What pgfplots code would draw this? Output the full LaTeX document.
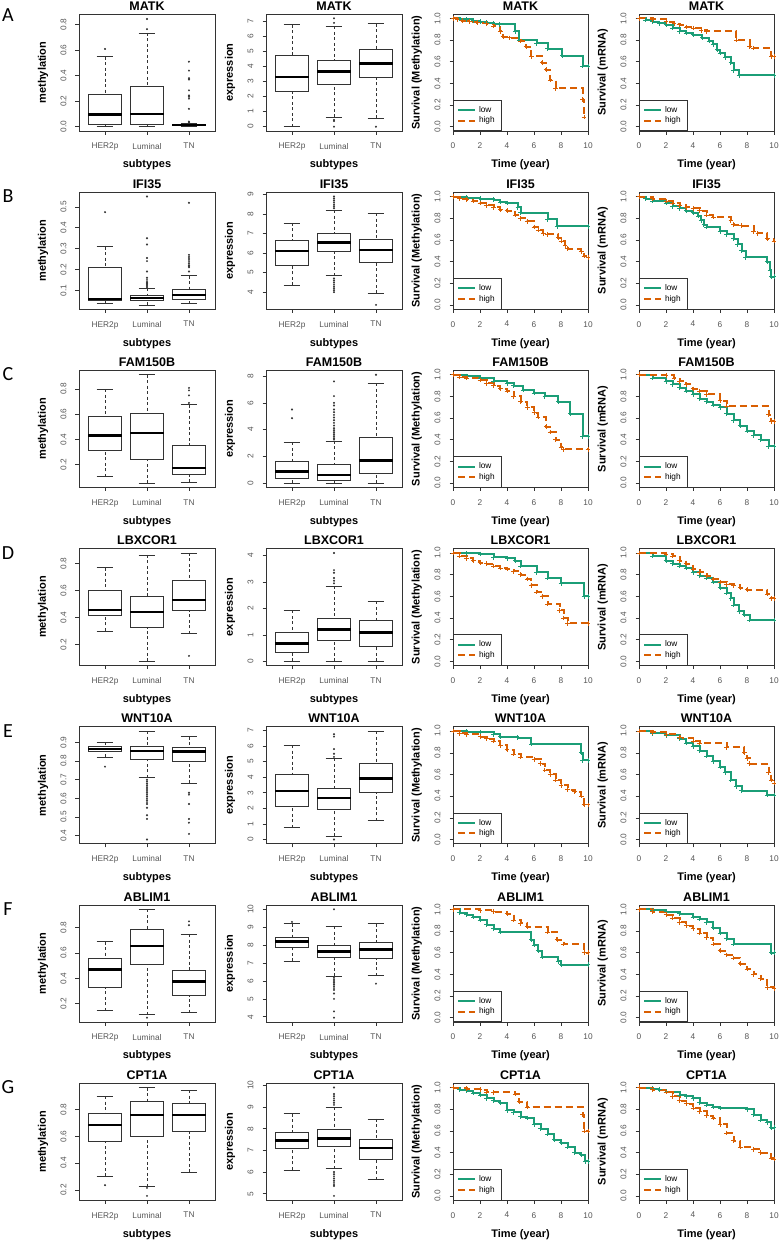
\documentclass[border=0pt]{standalone}
\usepackage{pgfplots}
\pgfplotsset{compat=1.18}
\usepgfplotslibrary{statistics}
\usepackage{fontspec}
\setmainfont{Liberation Sans}
\newfontfamily\letterfont{Carlito}
\definecolor{kmlow}{HTML}{1B9E77}
\definecolor{kmhigh}{HTML}{D95F02}
\definecolor{frame}{HTML}{333333}
\definecolor{ticklab}{HTML}{555555}

\pgfplotsset{
  rbase/.style={
    scale only axis, height=117pt, anchor=north west,
    axis line style={draw=frame, line width=0.7pt},
    tick align=outside, tick pos=left,
    major tick length=3.5pt,
    every tick/.style={draw=frame, line width=0.6pt},
    ticklabel style={font=\fontsize{8.3}{9}\selectfont, text=ticklab, /pgf/number format/assume math mode=true},
    yticklabel style={rotate=90, anchor=south},
    xticklabel shift=5pt, yticklabel shift=5.5pt,
    every axis title/.style={at={(axis description cs:0.5,1.034)}, anchor=base, font=\bfseries\fontsize{12.5}{14}\selectfont},
    every axis x label/.style={at={(axis description cs:0.5,-0.291)}, anchor=center, font=\bfseries\fontsize{11}{13}\selectfont},
    every axis y label/.style={rotate=90, anchor=center, font=\bfseries\fontsize{11}{13}\selectfont},
  },
  meth/.style={yticklabel style={/pgf/number format/.cd, fixed, fixed zerofill, precision=1}},
  bpax/.style={rbase, width=136pt, xmin=0.38, xmax=3.62, xtick={1,2,3},
    xticklabels={HER2p,Luminal,TN}, xlabel={subtypes},
    ylabel style={at={(axis description cs:-0.265,0.5)}}},
  kmax/.style={rbase, width=135pt, xmin=0, xmax=10, ymin=-0.04, ymax=1.04,
    xtick={0,2,4,6,8,10}, ytick={0,0.2,0.4,0.6,0.8,1}, meth,
    xlabel={Time (year)},
    ylabel style={at={(axis description cs:-0.269,0.5)}},
    legend style={at={(axis description cs:0,0)}, anchor=south west, draw=frame,
      line width=0.6pt, fill=white, inner xsep=3.7pt, inner ysep=3.3pt, row sep=-3pt,
      font=\fontsize{8.3}{9}\selectfont, nodes={inner sep=3pt}},
    legend cell align=left,
    legend image code/.code={\draw[##1] (0pt,0pt) -- (17pt,0pt);},
  },
  lowc/.style={kmlow, line width=2pt, const plot, mark=+, mark size=2.3pt, mark options={line width=0.7pt}},
  highc/.style={kmhigh, line width=2pt, const plot, dash pattern=on 7pt off 4pt, mark=+, mark size=2.3pt, mark options={solid, line width=0.7pt}},
  rbp/.style={
    draw=frame, line width=0.7pt, solid,
    mark=*, mark size=0.85pt, mark options={fill=frame, draw=frame, line width=0.3pt},
    boxplot/draw direction=y,
    boxplot/box extend=0.8,
    boxplot/whisker extend=0.4,
    boxplot/every box/.style={draw=frame, fill=white, line width=0.7pt},
    boxplot/every median/.style={draw=black, line width=2.5pt},
    boxplot/every whisker/.style={draw=frame, line width=0.7pt},
    boxplot/draw/lower whisker/.code={%
      \draw[/pgfplots/boxplot/every whisker/.try, dash pattern=on 3pt off 2.5pt]
        (boxplot box cs:\pgfplotsboxplotvalue{lower whisker},0.5) --
        (boxplot box cs:\pgfplotsboxplotvalue{lower quartile},0.5);
      \draw[/pgfplots/boxplot/every whisker/.try]
        (boxplot whisker cs:\pgfplotsboxplotvalue{lower whisker},0) --
        (boxplot whisker cs:\pgfplotsboxplotvalue{lower whisker},1);
    },
    boxplot/draw/upper whisker/.code={%
      \draw[/pgfplots/boxplot/every whisker/.try, dash pattern=on 3pt off 2.5pt]
        (boxplot box cs:\pgfplotsboxplotvalue{upper whisker},0.5) --
        (boxplot box cs:\pgfplotsboxplotvalue{upper quartile},0.5);
      \draw[/pgfplots/boxplot/every whisker/.try]
        (boxplot whisker cs:\pgfplotsboxplotvalue{upper whisker},0) --
        (boxplot whisker cs:\pgfplotsboxplotvalue{upper whisker},1);
    },
  },
}

% position, lower whisker, Q1, median, Q3, upper whisker, outliers
\newcommand{\bp}[7]{\addplot[rbp, boxplot prepared={draw position=#1, lower whisker=#2, lower quartile=#3, median=#4, upper quartile=#5, upper whisker=#6}] coordinates {#7};}
% x, y(top), title, ylabel, axis options, plots
\newcommand{\bpanel}[6]{\begin{axis}[bpax, at={(#1pt,-#2pt)}, title={#3}, ylabel={#4}, #5] #6 \end{axis}}
% x, y(top), title, ylabel, low, high
\newcommand{\km}[6]{\begin{axis}[kmax, at={(#1pt,-#2pt)}, title={#3}, ylabel={#4}]
\addplot[lowc] coordinates {#5}; \addlegendentry{low}
\addplot[highc] coordinates {#6}; \addlegendentry{high}
\end{axis}}
\newcommand{\rowlet}[2]{\node[font=\letterfont\fontsize{20}{20}\selectfont, anchor=center] at (8pt,-#2pt) {#1};}

\begin{document}
\begin{tikzpicture}
\path[use as bounding box] (0pt,0pt) rectangle (780pt,-1240pt);

% ---------------- Row A : MATK
\rowlet{A}{15}
\bpanel{79}{14}{MATK}{methylation}{ymin=-0.034, ymax=0.884, ytick={0,0.2,0.4,0.6,0.8}, meth}{
\bp{1}{0.005}{0.02}{0.095}{0.25}{0.55}{(0,0.61)}
\bp{2}{0.005}{0.02}{0.10}{0.315}{0.735}{(0,0.765)(0,0.845)}
\bp{3}{0.0}{0.008}{0.013}{0.02}{0.03}{(0,0.035)(0,0.04)(0,0.14)(0,0.22)(0,0.235)(0,0.245)(0,0.285)(0,0.37)(0,0.38)(0,0.44)(0,0.51)}
}
\bpanel{266}{14}{MATK}{expression}{ymin=-0.288, ymax=7.488, ytick={0,1,2,3,4,5,6,7}}{
\bp{1}{0}{2.35}{3.3}{4.72}{6.78}{}
\bp{2}{0.62}{2.83}{3.66}{4.4}{6.67}{(0,0)(0,0.38)(0,0.45)(0,6.9)(0,7.2)}
\bp{3}{0.55}{3.3}{4.2}{5.15}{6.85}{(0,0)}
}
\km{453}{14}{MATK}{Survival (Methylation)}
{(0,1)(0.5,0.995)(1,0.99)(1.5,0.98)(2,0.97)(2.5,0.96)(3,0.95)(3.4,0.945)(4.6,0.88)(4.9,0.80)(6.2,0.77)(7.0,0.72)(8.1,0.655)(9.6,0.56)(10,0.56)}
{(0,1)(0.3,0.99)(0.7,0.98)(1.2,0.97)(1.8,0.96)(2.5,0.95)(3.0,0.93)(3.5,0.88)(3.7,0.83)(4.2,0.82)(5,0.79)(5.4,0.74)(5.8,0.65)(6.6,0.59)(6.9,0.525)(7.2,0.43)(7.6,0.355)(9.6,0.25)(9.7,0.09)}
\km{639}{14}{MATK}{Survival (mRNA)}
{(0,1)(0.5,0.985)(1,0.97)(1.5,0.955)(2,0.94)(2.5,0.91)(3,0.88)(3.5,0.865)(4,0.85)(4.7,0.82)(5.2,0.79)(5.5,0.76)(5.8,0.71)(6.0,0.68)(6.4,0.64)(6.8,0.59)(7.0,0.52)(7.4,0.475)(10,0.475)}
{(0,1)(1,0.99)(2,0.97)(2.6,0.95)(3,0.94)(3.5,0.92)(4,0.91)(4.6,0.89)(5,0.88)(7.2,0.80)(8.2,0.74)(8.5,0.725)(9.8,0.65)(10,0.65)}

% ---------------- Row B : IFI35
\rowlet{B}{196}
\bpanel{79}{192.2}{IFI35}{methylation}{ymin=0.0092, ymax=0.5708, ytick={0.1,0.2,0.3,0.4,0.5}, meth}{
\bp{1}{0.035}{0.05}{0.057}{0.21}{0.31}{(0,0.475)}
\bp{2}{0.03}{0.05}{0.063}{0.075}{0.11}{(0,0.115)(0,0.12)(0,0.125)(0,0.13)(0,0.135)(0,0.14)(0,0.15)(0,0.16)(0,0.19)(0,0.24)(0,0.255)(0,0.32)(0,0.35)(0,0.55)}
\bp{3}{0.035}{0.055}{0.078}{0.105}{0.17}{(0,0.19)(0,0.21)(0,0.215)(0,0.22)(0,0.23)(0,0.24)(0,0.25)(0,0.26)(0,0.27)(0,0.52)}
}
\bpanel{266}{192.2}{IFI35}{expression}{ymin=3.128, ymax=9.122, ytick={4,5,6,7,8,9}}{
\bp{1}{4.35}{5.4}{6.1}{6.65}{7.55}{}
\bp{2}{4.85}{6.1}{6.55}{7.0}{8.2}{(0,4.0)(0,4.1)(0,4.2)(0,4.3)(0,4.4)(0,4.5)(0,4.6)(0,4.7)(0,8.3)(0,8.4)(0,8.5)(0,8.6)(0,8.7)(0,8.8)(0,8.9)}
\bp{3}{3.95}{5.55}{6.15}{6.7}{8.05}{(0,3.35)}
}
\km{453}{192.2}{IFI35}{Survival (Methylation)}
{(0,1)(1,0.99)(2,0.98)(3,0.97)(3.5,0.95)(4,0.94)(4.8,0.90)(5.0,0.85)(7,0.79)(7.7,0.725)(10,0.725)}
{(0,1)(0.5,0.98)(1,0.97)(1.5,0.96)(2,0.94)(2.5,0.92)(3,0.90)(3.5,0.88)(4,0.87)(4.6,0.83)(5,0.80)(5.5,0.77)(6.0,0.72)(6.3,0.69)(6.7,0.66)(7.0,0.65)(7.8,0.62)(8.0,0.59)(8.3,0.55)(8.5,0.52)(9.5,0.49)(9.7,0.45)(10,0.44)}
\km{639}{192.2}{IFI35}{Survival (mRNA)}
{(0,1)(0.5,0.98)(1,0.96)(2,0.94)(2.5,0.91)(3,0.89)(3.5,0.87)(4,0.85)(4.4,0.82)(4.6,0.78)(4.8,0.74)(5,0.72)(6,0.68)(6.5,0.65)(7,0.61)(7.3,0.56)(7.6,0.5)(7.9,0.44)(9.5,0.40)(9.7,0.32)(9.8,0.26)(10,0.26)}
{(0,1)(1,0.98)(2,0.96)(2.5,0.94)(3,0.92)(3.5,0.9)(4,0.89)(4.5,0.87)(5,0.83)(5.5,0.81)(6.8,0.78)(7.0,0.74)(7.6,0.73)(8.5,0.68)(8.8,0.66)(9.5,0.61)(10,0.59)}

% ---------------- Row C : FAM150B
\rowlet{C}{374.4}
\bpanel{79}{370.4}{FAM150B}{methylation}{ymin=0.0154, ymax=0.9496, ytick={0.2,0.4,0.6,0.8}, meth}{
\bp{1}{0.10}{0.31}{0.43}{0.585}{0.80}{}
\bp{2}{0.05}{0.24}{0.45}{0.605}{0.915}{}
\bp{3}{0.055}{0.12}{0.17}{0.355}{0.675}{(0,0.69)(0,0.75)(0,0.79)(0,0.81)}
}
\bpanel{266}{370.4}{FAM150B}{expression}{ymin=-0.324, ymax=8.424, ytick={0,2,4,6,8}}{
\bp{1}{0}{0.35}{0.85}{1.6}{3.05}{(0,4.85)(0,5.5)}
\bp{2}{0}{0.2}{0.6}{1.4}{3.15}{(0,3.25)(0,3.35)(0,3.5)(0,3.65)(0,3.8)(0,3.95)(0,4.1)(0,4.3)(0,4.5)(0,4.7)(0,4.9)(0,5.1)(0,5.3)(0,5.5)(0,5.8)(0,6.0)(0,6.5)(0,7.6)}
\bp{3}{0}{0.7}{1.7}{3.45}{7.45}{(0,8.1)}
}
\km{453}{370.4}{FAM150B}{Survival (Methylation)}
{(0,1)(1,0.99)(2,0.97)(3,0.94)(4,0.92)(4.5,0.9)(5.2,0.86)(6,0.83)(6.8,0.80)(7.8,0.75)(8.7,0.64)(9.6,0.43)(10,0.43)}
{(0,1)(0.5,0.98)(1,0.97)(2,0.95)(2.5,0.92)(3,0.90)(3.5,0.87)(4,0.85)(4.5,0.80)(5,0.75)(5.5,0.70)(6,0.65)(6.3,0.61)(6.9,0.52)(7.2,0.47)(7.6,0.40)(8,0.33)(8.2,0.31)(10,0.31)}
\km{639}{370.4}{FAM150B}{Survival (mRNA)}
{(0,1)(1,0.97)(2,0.94)(2.5,0.91)(3,0.88)(3.5,0.85)(4,0.82)(4.5,0.78)(5,0.75)(5.5,0.72)(6,0.70)(6.5,0.64)(7,0.58)(7.5,0.53)(8,0.48)(8.5,0.44)(9,0.40)(9.6,0.34)(10,0.34)}
{(0,1)(2,0.995)(2.6,0.97)(3,0.94)(3.5,0.91)(4,0.87)(4.5,0.85)(5,0.82)(6,0.76)(6.5,0.71)(9.6,0.63)(9.8,0.57)(10,0.57)}

% ---------------- Row D : LBXCOR1
\rowlet{D}{552.6}
\bpanel{79}{548.6}{LBXCOR1}{methylation}{ymin=0.0428, ymax=0.9122, ytick={0.2,0.4,0.6,0.8}, meth}{
\bp{1}{0.30}{0.415}{0.455}{0.605}{0.77}{}
\bp{2}{0.075}{0.325}{0.44}{0.555}{0.865}{}
\bp{3}{0.28}{0.455}{0.53}{0.675}{0.88}{(0,0.115)}
}
\bpanel{266}{548.6}{LBXCOR1}{expression}{ymin=-0.164, ymax=4.264, ytick={0,1,2,3,4}}{
\bp{1}{0}{0.35}{0.67}{1.08}{1.93}{}
\bp{2}{0}{0.78}{1.2}{1.62}{2.85}{(0,2.95)(0,3.05)(0,3.15)(0,3.35)(0,3.45)(0,4.1)}
\bp{3}{0}{0.58}{1.08}{1.55}{2.27}{}
}
\km{453}{548.6}{LBXCOR1}{Survival (Methylation)}
{(0,1)(1,0.995)(2,0.99)(3,0.96)(4,0.95)(4.6,0.93)(5.0,0.88)(6.2,0.82)(7,0.77)(8,0.72)(9.7,0.6)(10,0.6)}
{(0,1)(0.5,0.97)(1,0.95)(1.5,0.93)(2,0.91)(2.5,0.90)(3,0.88)(3.5,0.86)(4,0.85)(4.5,0.83)(5,0.80)(5.5,0.76)(5.8,0.70)(6.2,0.64)(6.6,0.60)(7,0.53)(7.9,0.47)(8.2,0.40)(8.5,0.35)(10,0.35)}
\km{639}{548.6}{LBXCOR1}{Survival (mRNA)}
{(0,1)(1,0.97)(2,0.93)(2.5,0.90)(3,0.88)(3.5,0.86)(4,0.82)(4.5,0.79)(5,0.77)(5.5,0.73)(6,0.68)(6.5,0.63)(6.8,0.58)(7,0.52)(7.4,0.46)(7.8,0.43)(8.2,0.38)(10,0.38)}
{(0,1)(2,0.99)(2.5,0.97)(3,0.93)(3.5,0.90)(4,0.85)(4.5,0.82)(5,0.79)(5.5,0.76)(6,0.73)(6.5,0.71)(7,0.70)(7.5,0.68)(8,0.66)(9.5,0.62)(9.8,0.58)(10,0.58)}

% ---------------- Row E : WNT10A
\rowlet{E}{730.8}
\bpanel{79}{726.8}{WNT10A}{methylation}{ymin=0.3568, ymax=0.9832, ytick={0.4,0.5,0.6,0.7,0.8,0.9}, meth}{
\bp{1}{0.82}{0.853}{0.865}{0.88}{0.90}{(0,0.77)}
\bp{2}{0.71}{0.81}{0.855}{0.88}{0.96}{(0,0.70)(0,0.69)(0,0.68)(0,0.67)(0,0.66)(0,0.65)(0,0.64)(0,0.63)(0,0.62)(0,0.61)(0,0.60)(0,0.59)(0,0.58)(0,0.57)(0,0.55)(0,0.51)(0,0.49)(0,0.38)}
\bp{3}{0.68}{0.80}{0.85}{0.875}{0.93}{(0,0.63)(0,0.62)(0,0.57)(0,0.49)(0,0.47)(0,0.41)}
}
\bpanel{266}{726.8}{WNT10A}{expression}{ymin=-0.278, ymax=7.228, ytick={0,1,2,3,4,5,6,7}}{
\bp{1}{0.75}{2.15}{3.1}{4.2}{6.05}{}
\bp{2}{0.2}{1.95}{2.65}{3.3}{5.2}{(0,0)(0,5.3)(0,5.5)(0,5.8)(0,6.6)(0,6.75)}
\bp{3}{1.2}{3.0}{3.9}{4.9}{6.95}{}
}
\km{453}{726.8}{WNT10A}{Survival (Methylation)}
{(0,1)(1,0.995)(2,0.99)(3,0.97)(3.5,0.95)(4.8,0.94)(5.8,0.88)(9.5,0.8)(9.6,0.73)(10,0.73)}
{(0,1)(0.5,0.98)(1,0.97)(2,0.95)(2.5,0.93)(3,0.91)(3.5,0.87)(4,0.83)(4.5,0.79)(5,0.76)(6,0.74)(6.5,0.70)(6.8,0.64)(7.2,0.6)(7.6,0.55)(8,0.50)(8.5,0.46)(9,0.44)(9.5,0.40)(9.7,0.32)(10,0.32)}
\km{639}{726.8}{WNT10A}{Survival (mRNA)}
{(0,1)(1,0.98)(2,0.96)(3,0.93)(3.5,0.89)(4,0.86)(4.5,0.82)(5,0.77)(5.5,0.72)(6,0.67)(6.4,0.62)(6.8,0.55)(7.2,0.49)(7.6,0.45)(9.5,0.41)(10,0.41)}
{(0,1)(1,0.99)(2,0.97)(3,0.94)(4,0.91)(4.5,0.89)(6.5,0.85)(7.8,0.80)(8,0.75)(8.2,0.70)(9.6,0.62)(9.8,0.55)(10,0.52)}

% ---------------- Row F : ABLIM1
\rowlet{F}{909}
\bpanel{79}{905}{ABLIM1}{methylation}{ymin=0.0558, ymax=0.9792, ytick={0.2,0.4,0.6,0.8}, meth}{
\bp{1}{0.145}{0.33}{0.47}{0.555}{0.69}{}
\bp{2}{0.115}{0.51}{0.655}{0.79}{0.945}{(0,0.09)}
\bp{3}{0.13}{0.265}{0.375}{0.465}{0.75}{(0,0.82)(0,0.85)}
}
\bpanel{266}{905}{ABLIM1}{expression}{ymin=3.708, ymax=10.242, ytick={4,5,6,7,8,9,10}}{
\bp{1}{7.1}{7.85}{8.2}{8.45}{9.2}{(0,9.3)}
\bp{2}{6.25}{7.3}{7.65}{8.0}{9.05}{(0,10.0)(0,6.2)(0,6.1)(0,6.0)(0,5.9)(0,5.8)(0,5.7)(0,5.6)(0,5.5)(0,5.3)(0,5.0)(0,4.3)(0,3.95)}
\bp{3}{6.3}{7.25}{7.75}{8.15}{9.2}{(0,5.85)}
}
\km{453}{905}{ABLIM1}{Survival (Methylation)}
{(0,1)(0.5,0.97)(1,0.95)(1.5,0.93)(2,0.90)(2.5,0.86)(3,0.82)(3.5,0.79)(5.8,0.72)(6,0.67)(6.3,0.62)(6.6,0.56)(7.8,0.52)(8,0.49)(10,0.49)}
{(0,1)(2,0.99)(3,0.98)(4,0.96)(4.5,0.90)(5,0.87)(5.5,0.84)(7,0.79)(7.7,0.72)(8.2,0.68)(9.7,0.6)(10,0.6)}
\km{639}{905}{ABLIM1}{Survival (mRNA)}
{(0,1)(1,0.995)(2,0.98)(3,0.96)(4,0.93)(4.5,0.91)(5,0.88)(5.5,0.83)(6,0.78)(6.5,0.73)(7,0.68)(9.8,0.60)(10,0.6)}
{(0,1)(1,0.98)(2,0.95)(2.5,0.92)(3,0.88)(3.5,0.85)(4,0.82)(4.5,0.78)(5,0.74)(5.5,0.68)(6,0.62)(6.5,0.58)(7,0.55)(7.5,0.5)(8,0.45)(8.5,0.40)(9,0.36)(9.5,0.28)(10,0.27)}

% ---------------- Row G : CPT1A
\rowlet{G}{1087.2}
\bpanel{79}{1083.2}{CPT1A}{methylation}{ymin=0.1226, ymax=0.9974, ytick={0.2,0.4,0.6,0.8}, meth}{
\bp{1}{0.30}{0.565}{0.685}{0.77}{0.90}{(0,0.235)}
\bp{2}{0.225}{0.60}{0.76}{0.86}{0.965}{(0,0.215)(0,0.155)}
\bp{3}{0.33}{0.64}{0.76}{0.85}{0.945}{}
}
\bpanel{266}{1083.2}{CPT1A}{expression}{ymin=4.7, ymax=10.1, ytick={5,6,7,8,9,10}}{
\bp{1}{6.1}{7.1}{7.45}{7.85}{8.7}{}
\bp{2}{6.15}{7.2}{7.55}{7.95}{9.0}{(0,9.1)(0,9.2)(0,9.3)(0,9.4)(0,9.5)(0,9.6)(0,9.9)(0,6.0)(0,5.9)(0,5.8)(0,5.7)(0,5.6)(0,5.5)(0,5.4)(0,5.35)(0,4.9)}
\bp{3}{5.65}{6.6}{7.1}{7.5}{8.45}{}
}
\km{453}{1083.2}{CPT1A}{Survival (Methylation)}
{(0,1)(0.5,0.98)(1,0.97)(1.5,0.95)(2,0.93)(2.5,0.90)(3,0.88)(3.5,0.86)(4,0.79)(4.5,0.77)(5,0.73)(5.5,0.72)(6,0.66)(6.5,0.62)(7,0.57)(7.5,0.52)(8,0.49)(8.5,0.45)(9,0.40)(9.5,0.38)(9.8,0.32)(10,0.32)}
{(0,1)(1,0.99)(2,0.98)(2.5,0.96)(3,0.955)(4.6,0.94)(4.9,0.87)(5.5,0.82)(9.6,0.75)(9.7,0.60)(10,0.60)}
\km{639}{1083.2}{CPT1A}{Survival (mRNA)}
{(0,1)(1,0.99)(1.5,0.98)(2,0.96)(3,0.93)(3.5,0.92)(4,0.9)(4.5,0.86)(5,0.84)(5.5,0.82)(6,0.81)(8,0.80)(8.5,0.75)(9,0.70)(9.5,0.68)(9.8,0.63)(10,0.63)}
{(0,1)(1,0.98)(2,0.96)(2.5,0.92)(3,0.88)(3.5,0.85)(4,0.81)(4.5,0.78)(5,0.74)(5.5,0.72)(6,0.66)(6.5,0.58)(7,0.51)(7.5,0.45)(8.5,0.43)(9,0.40)(9.8,0.35)(10,0.34)}

\end{tikzpicture}
\end{document}
